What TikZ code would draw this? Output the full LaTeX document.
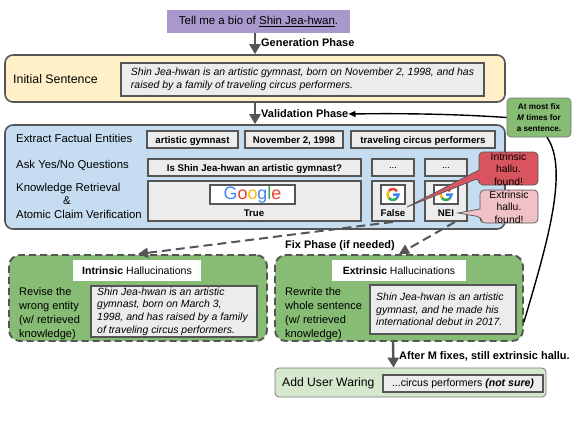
\documentclass[tikz,border=0pt]{standalone}
\usepackage{fontspec}
\setmainfont{Liberation Sans}
\usetikzlibrary{arrows.meta,calc}
\definecolor{dk}{HTML}{555555}
\definecolor{purp}{HTML}{A898CC}
\definecolor{yel}{HTML}{FFF0C8}
\definecolor{blu}{HTML}{C6DCF0}
\definecolor{grn}{HTML}{86BC74}
\definecolor{ltgrn}{HTML}{D5E8CE}
\definecolor{gry}{HTML}{ECECEC}
\definecolor{redc}{HTML}{D9545E}
\definecolor{pinkc}{HTML}{F0C2C6}
\definecolor{gblue}{HTML}{4285F4}
\definecolor{gred}{HTML}{EA4335}
\definecolor{gyel}{HTML}{FBBC05}
\definecolor{ggrn}{HTML}{34A853}
\tikzset{
  panel/.style={draw=dk,line width=1.6bp,rounded corners=8bp,inner sep=0pt},
  fixpanel/.style={panel,fill=grn,line width=1.9bp,dash pattern=on 7bp off 4bp,rounded corners=11bp},
  graybox/.style={draw=dk,line width=1.8bp,fill=gry,inner sep=0pt},
  whitebox/.style={draw=dk,line width=1.8bp,fill=white,inner sep=0pt},
  plainwhite/.style={fill=white,inner sep=0pt},
  lab/.style={inner sep=0pt,align=left,font=\fontsize{11.4}{14}\selectfont},
  sidelab/.style={inner sep=0pt,align=left,font=\fontsize{11.1}{14}\selectfont},
  bodytext/.style={inner sep=0pt,align=left,font=\fontsize{10.5}{12.7}\selectfont\itshape},
  boldlab/.style={inner sep=0pt,text height=8bp,text depth=.5bp,font=\fontsize{9.7}{12}\selectfont\bfseries},
  phaselab/.style={inner sep=0pt,anchor=west,font=\fontsize{11}{12}\selectfont\bfseries},
  flow/.style={draw=dk,line width=2.4bp,-{Triangle[width=11bp,length=10bp]}},
  dashflow/.style={draw=dk,line width=2bp,dash pattern=on 9bp off 5bp,-{Triangle[width=10bp,length=10bp]}},
  loopline/.style={draw=black,line width=1.4bp},
  callout/.style={line width=.7bp,rounded corners=4bp},
  calltext/.style={inner sep=0pt,align=center,font=\fontsize{10.4}{12.5}\selectfont},
}
\newcommand\bx[7]{%
  \pgfmathsetmacro\bxw{#4-#2}\pgfmathsetmacro\bxh{#5-#3}%
  \pgfmathsetmacro\bxx{(#4+#2)/2}\pgfmathsetmacro\bxy{(#5+#3)/2}%
  \node[#6,minimum width=\bxw bp,minimum height=\bxh bp] (#1) at (\bxx,\bxy) {#7};}
\newcommand\gicon[1]{%
  \begin{scope}[shift={#1},x=1bp,y=1bp,line width=2.5bp]
    \draw[gred] (140:5.5) arc[start angle=140,end angle=40,radius=5.5];
    \draw[gyel] (140:5.5) arc[start angle=140,end angle=220,radius=5.5];
    \draw[ggrn] (220:5.5) arc[start angle=220,end angle=315,radius=5.5];
    \draw[gblue] (315:5.5) arc[start angle=315,end angle=360,radius=5.5] -- (0,0);
  \end{scope}}
\begin{document}
\begin{tikzpicture}[x=1bp,y=-1bp]
\useasboundingbox (0,0) rectangle (582,425);
% prompt
\bx{prompt}{167}{10}{350}{33}{fill=purp,inner sep=0pt,font=\fontsize{11.5}{12}\selectfont}{Tell me a bio of \underline{Shin Jea-hwan}.}
% initial sentence
\bx{initial}{5}{55}{505}{102}{panel,fill=yel}{}
\node[lab,anchor=west,font=\fontsize{12.4}{14}\selectfont] (initlab) at (13,79.5) {Initial Sentence};
\bx{initbox}{121}{63}{484}{96}{graybox,bodytext}{Shin Jea-hwan is an artistic gymnast, born on November 2, 1998, and has\\raised by a family of traveling circus performers.}
% validation panel
\bx{valid}{5}{125}{505}{229}{panel,fill=blu}{}
\node[lab,anchor=west] (extract) at (16,138) {Extract Factual Entities};
\node[lab,anchor=west] (askq) at (16,165.5) {Ask Yes/No Questions};
\node[lab,anchor=north west,font=\fontsize{11.4}{13.6}\selectfont] (retr) at (16,183) {Knowledge Retrieval\\\hspace{47bp}\&\\Atomic Claim Verification};
\bx{ent1}{147}{131}{238}{148}{graybox,boldlab}{artistic gymnast}
\bx{ent2}{245}{131}{343}{148}{graybox,boldlab}{November 2, 1998}
\bx{ent3}{351}{131}{495}{148}{graybox,boldlab}{traveling circus performers}
\bx{ques}{148}{159}{361}{176}{graybox,boldlab}{Is Shin Jea-hwan an artistic gymnast?}
\bx{dots1}{372}{159}{414}{176}{graybox,font=\fontsize{9.6}{12}\selectfont}{...}
\bx{dots2}{425}{159}{467}{176}{graybox,font=\fontsize{9.6}{12}\selectfont}{...}
\bx{ktrue}{148}{181}{361}{221}{graybox}{}
\bx{kfalse}{372}{181}{414}{221}{graybox}{}
\bx{knei}{425}{181}{467}{221}{graybox}{}
\bx{goog}{210}{185}{295}{204}{whitebox,font=\fontsize{18}{18}\selectfont}{\textcolor{gblue}{G}\textcolor{gred}{o}\textcolor{gyel}{o}\textcolor{gblue}{g}\textcolor{ggrn}{l}\textcolor{gred}{e}}
\node[boldlab] (truelab) at (254,213) {True};
\bx{g1}{381}{185}{405}{204}{whitebox}{}
\bx{g2}{434}{185}{458}{204}{whitebox}{}
\gicon{(393,194.5)}
\gicon{(446,194.5)}
\node[boldlab] (falselab) at (393,213) {False};
\node[boldlab] (neilab) at (446,213) {NEI};
% fix panels
\bx{fixl}{9}{255}{267}{341}{fixpanel}{}
\bx{fixr}{275}{255}{523}{341}{fixpanel}{}
\bx{titlel}{73}{260}{201}{281}{plainwhite,font=\fontsize{10.6}{12}\selectfont}{\textbf{Intrinsic} Hallucinations}
\bx{titler}{332}{260}{466}{281}{plainwhite,font=\fontsize{10.5}{12}\selectfont}{\textbf{Extrinsic} Hallucinations}
\node[sidelab,anchor=north west] (revise) at (19,287.5) {Revise the\\wrong entity\\(w/ retrieved\\knowledge)};
\node[sidelab,anchor=north west] (rewrite) at (285,287.5) {Rewrite the\\whole sentence\\(w/ retrieved\\knowledge)};
\bx{sentl}{91}{286}{257}{337}{graybox}{}
\node[bodytext,anchor=west] (sentltext) at (97,311.5) {Shin Jea-hwan is an artistic\\gymnast, born on March 3,\\1998, and has raised by a family\\of traveling circus performers.};
\bx{sentr}{370}{285}{516}{334}{graybox}{}
\node[bodytext,anchor=west] (sentrtext) at (376,309.5) {Shin Jea-hwan is an artistic\\gymnast, and he made his\\international debut in 2017.};
% user warning
\bx{warn}{275}{368}{546}{397}{draw=dk!80,line width=.8bp,fill=ltgrn,rounded corners=4bp}{}
\node[lab,anchor=west,font=\fontsize{12.2}{14}\selectfont] (warnlab) at (282,383) {Add User Waring};
\bx{warnbox}{383}{375}{543}{392}{graybox,font=\fontsize{10.6}{12}\selectfont}{...circus performers \textbf{\textit{(not sure)}}}
% phase labels
\node[phaselab] (genlab) at (261,43) {Generation Phase};
\node[phaselab] (vallab) at (261,114) {Validation Phase};
\node[phaselab] (fixlab) at (285,246) {Fix Phase (if needed)};
\node[phaselab] (afterlab) at (399,356) {After M fixes, still extrinsic hallu.};
% note
\bx{note}{507}{98}{571}{137}{draw=dk!80,line width=.7bp,fill=grn,rounded corners=4bp,align=center,font=\fontsize{8.2}{10.8}\selectfont\bfseries}{At most fix\\\textit{M} times for\\a sentence.}
% main flow
\draw[flow] (prompt.south -| initial.north) -- (initial.north);
\draw[flow] (initial.south) -- (valid.north);
\draw[flow] ([xshift=-6bp]fixr.south) -- ([xshift=-17bp]warn.north);
\draw[dashflow] (kfalse.south) -- (fixl.north);
\draw[dashflow] ([xshift=9bp]knei.south) -- (fixr.north);
% loop
\draw[loopline] ([yshift=-24bp]fixr.east) .. controls (545,250) and (570,170) .. ([xshift=8bp]note.south);
\draw[loopline,-{Triangle[width=6bp,length=7bp]}] (note.west) .. controls (470,115) and (420,113) .. (vallab.east);
% callouts
\draw[callout,draw=dk,fill=redc] (479,152) -- (538,152) -- (538,185) -- (479,185) -- (479,178) [sharp corners] -- (407,207) -- (479,170) [rounded corners=4bp] -- cycle;
\node[calltext] (intr) at (508.5,169) {Intrinsic\\hallu.\\found!};
\draw[callout,draw=dk,fill=pinkc] (480,190) -- (538,190) -- (538,223) -- (481,223) -- (481,217) [sharp corners] -- (458,213) -- (480,209) [rounded corners=4bp] -- cycle;
\node[calltext] (extr) at (509,207) {Extrinsic\\hallu.\\found!};
\end{tikzpicture}
\end{document}
